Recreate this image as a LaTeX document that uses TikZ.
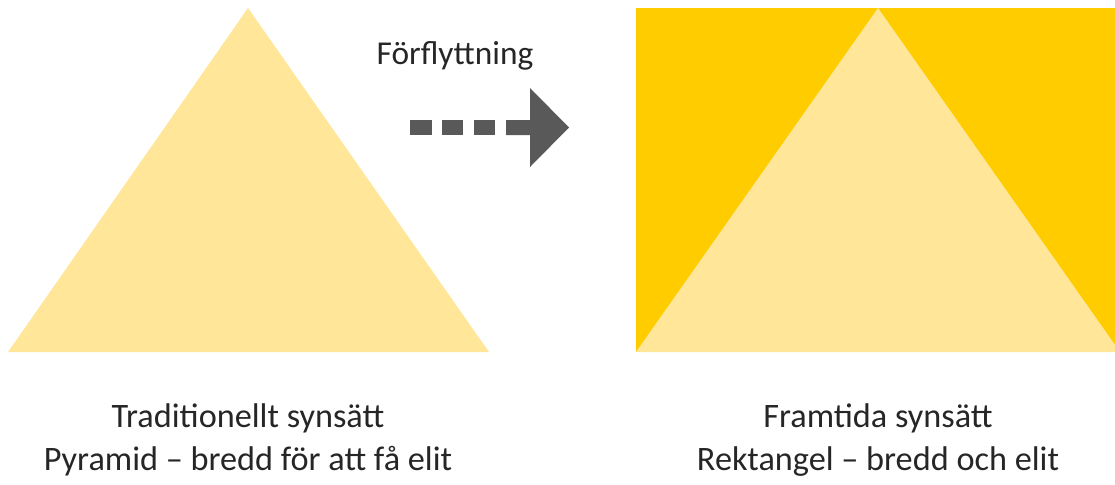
\documentclass[tikz,border=0pt]{standalone}
\usepackage{fontspec}
\setmainfont{Carlito}
\definecolor{palegold}{HTML}{FFE699}
\definecolor{gold}{HTML}{FFCC00}
\definecolor{arrowgray}{HTML}{595959}
\tikzset{
  caption/.style={align=center, text=black!85, font=\fontsize{19.5}{24.5}\selectfont},
}

\begin{document}
\begin{tikzpicture}[x=0.02cm,y=-0.02cm]
  \useasboundingbox (0,0) rectangle (1115,484);
  % left: pyramid
  \fill[palegold] (8,352) -- (248,8) -- (489,352) -- cycle;
  % arrow
  \fill[arrowgray] (410,120) rectangle (432,135);
  \fill[arrowgray] (442,120) rectangle (463,135);
  \fill[arrowgray] (474,120) rectangle (495,135);
  \fill[arrowgray] (506,120) -- (530,120) -- (530,88) -- (569,127.5)
    -- (530,167) -- (530,135) -- (506,135) -- cycle;
  \node[font=\fontsize{19}{22}\selectfont, text=black!85] (move) at (455,56) {Förflyttning};
  % right: rectangle
  \begin{scope}
    \clip (636,8) rectangle (1115,352);
    \fill[gold] (636,8) rectangle (1115,352);
    \fill[palegold] (636,352) -- (878,8) -- (1120,352) -- cycle;
  \end{scope}
  \node[caption] (old) at (248,440) {Traditionellt synsätt\\Pyramid – bredd för att få elit};
  \node[caption] (new) at (878,440) {Framtida synsätt\\Rektangel – bredd och elit};
\end{tikzpicture}
\end{document}
